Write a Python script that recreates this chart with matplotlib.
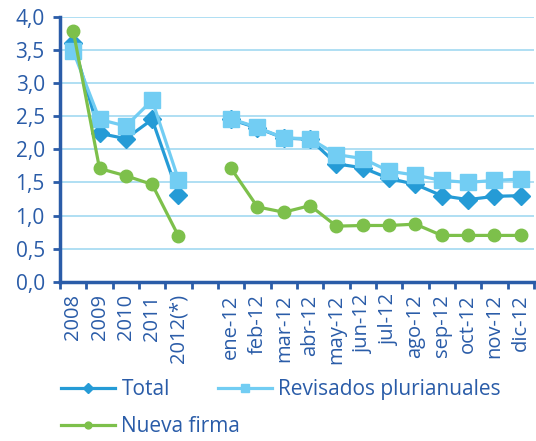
import numpy as np
import matplotlib
matplotlib.use('Agg')
import matplotlib.pyplot as plt

# categories: 5 years, one blank slot, 12 months of 2012
labels = ['2008', '2009', '2010', '2011', '2012(*)', '',
          'ene-12', 'feb-12', 'mar-12', 'abr-12', 'may-12', 'jun-12',
          'jul-12', 'ago-12', 'sep-12', 'oct-12', 'nov-12', 'dic-12']

total = [3.60, 2.24, 2.16, 2.45, 1.31, np.nan,
         2.45, 2.32, 2.17, 2.15, 1.78, 1.72, 1.56, 1.47, 1.30, 1.24, 1.29, 1.30]
revisados = [3.48, 2.45, 2.35, 2.74, 1.54, np.nan,
             2.46, 2.33, 2.17, 2.16, 1.92, 1.86, 1.67, 1.61, 1.53, 1.50, 1.53, 1.55]
nueva = [3.79, 1.71, 1.60, 1.47, 0.69, np.nan,
         1.71, 1.13, 1.05, 1.15, 0.84, 0.85, 0.85, 0.87, 0.70, 0.70, 0.70, 0.70]

dark = '#2a5ca8'
plt.rcParams['font.family'] = ['Open Sans', 'DejaVu Sans']

fig = plt.figure(figsize=(5.36, 4.41), dpi=100)
ax = fig.add_axes([0.112, 0.361, 0.884, 0.601])

x = np.arange(len(labels))
l1, = ax.plot(x, total, color='#259bd6', lw=2.3, marker='D', ms=9.5, label='Total', zorder=3)
l2, = ax.plot(x, revisados, color='#72cdf3', lw=2.3, marker='s', ms=11.5,
              label='Revisados plurianuales', zorder=4)
l3, = ax.plot(x, nueva, color='#7dc04b', lw=2.3, marker='o', ms=9, label='Nueva firma', zorder=5)

ax.set_xlim(-0.5, len(labels) - 0.5)
ax.set_ylim(0, 4.0)
ax.set_yticks(np.arange(0, 4.01, 0.5))
ax.set_yticklabels([f'{v:.1f}'.replace('.', ',') for v in np.arange(0, 4.01, 0.5)])
ax.grid(axis='y', color='#a9dcf2', lw=1.3)
ax.set_axisbelow(True)

ax.set_xticks(x)
ax.set_xticklabels(labels, rotation=90)
ax.set_xticks(np.arange(-0.5, len(labels), 1), minor=True)
ax.tick_params(axis='x', which='major', length=0, pad=9, labelsize=14.5, colors=dark)
ax.tick_params(axis='x', which='minor', length=5, width=2, color=dark)
ax.tick_params(axis='y', length=5, width=2, color=dark, labelcolor=dark, labelsize=15, pad=6)

for s in ['top', 'right']:
    ax.spines[s].set_visible(False)
for s in ['left', 'bottom']:
    ax.spines[s].set_color(dark)
    ax.spines[s].set_linewidth(2.5)

# two legends so the rows are laid out independently, like the reference
opts = dict(loc='upper left', frameon=False, borderpad=0, borderaxespad=0,
            fontsize=15, handlelength=2.6, handletextpad=0.3, columnspacing=2.3,
            markerscale=0.55)
leg1 = fig.legend([l1, l2], ['Total', 'Revisados plurianuales'], ncol=2,
                  bbox_to_anchor=(61 / 536, 1 - 379 / 441), **opts)
leg2 = fig.legend([l3], ['Nueva firma'],
                  bbox_to_anchor=(61 / 536, 1 - 416 / 441), **opts)
for leg in (leg1, leg2):
    for t in leg.get_texts():
        t.set_color(dark)

fig.savefig('out.png', dpi=100)
